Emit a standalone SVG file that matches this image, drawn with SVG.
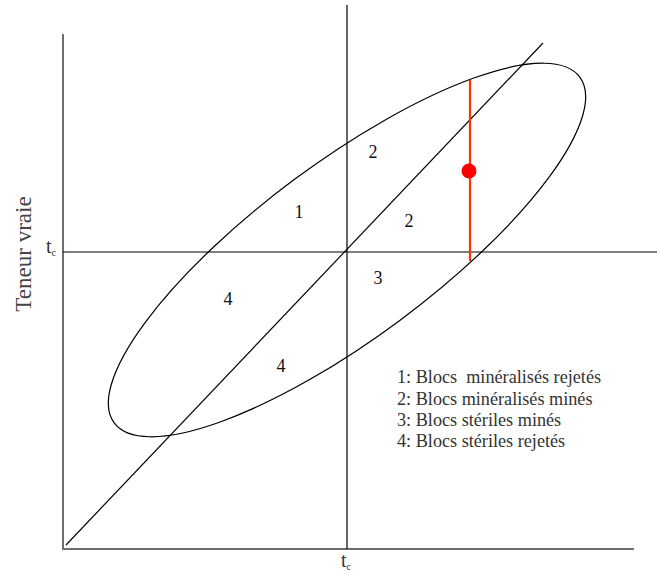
<svg xmlns="http://www.w3.org/2000/svg" width="659" height="573" viewBox="0 0 659 573">
<style>
.ax{stroke:#6e6e6e;stroke-width:2;fill:none}
.ln{stroke:#000;stroke-width:1.2;fill:none}
text{font-family:'Liberation Serif','DejaVu Serif',serif;fill:#111}
.num{font-size:18px;text-anchor:middle}
.leg{font-size:18.2px;fill:#333}
</style>
<rect width="659" height="573" fill="#fff"/>
<g id="axes">
<line class="ax" x1="63" y1="34" x2="63" y2="550"/>
<line class="ax" x1="62" y1="549" x2="634" y2="549"/>
</g>
<g id="lines">
<line class="ln" x1="347" y1="5" x2="347" y2="549"/>
<line class="ln" x1="63" y1="252" x2="657" y2="252"/>
<line class="ln" x1="66" y1="545" x2="543" y2="43"/>
<ellipse class="ln" cx="347" cy="250" rx="290" ry="88" transform="rotate(-36.6 347 250)"/>
</g>
<g id="marker">
<line x1="470" y1="80" x2="470" y2="261" stroke="#ff3300" stroke-width="2.2"/>
<circle cx="469" cy="171" r="7.5" fill="#ff0000"/>
</g>
<g id="labels">
<text class="num" x="373" y="158">2</text>
<text class="num" x="299" y="218">1</text>
<text class="num" x="409" y="227">2</text>
<text class="num" x="378" y="284">3</text>
<text class="num" x="228" y="305">4</text>
<text class="num" x="281" y="372">4</text>
<text x="46" y="253" font-size="20" style="fill:#333">t<tspan font-size="10" dy="3">c</tspan></text>
<text x="341" y="567" font-size="20" style="fill:#333">t<tspan font-size="10" dy="3">c</tspan></text>
<text transform="translate(31 254) rotate(-90)" font-size="23" text-anchor="middle" style="fill:#444">Teneur vraie</text>
</g>
<g id="legend">
<text class="leg" x="397" y="383" xml:space="preserve">1: Blocs  minéralisés rejetés</text>
<text class="leg" x="397" y="405">2: Blocs minéralisés minés</text>
<text class="leg" x="397" y="426">3: Blocs stériles minés</text>
<text class="leg" x="397" y="447">4: Blocs stériles rejetés</text>
</g>
</svg>
